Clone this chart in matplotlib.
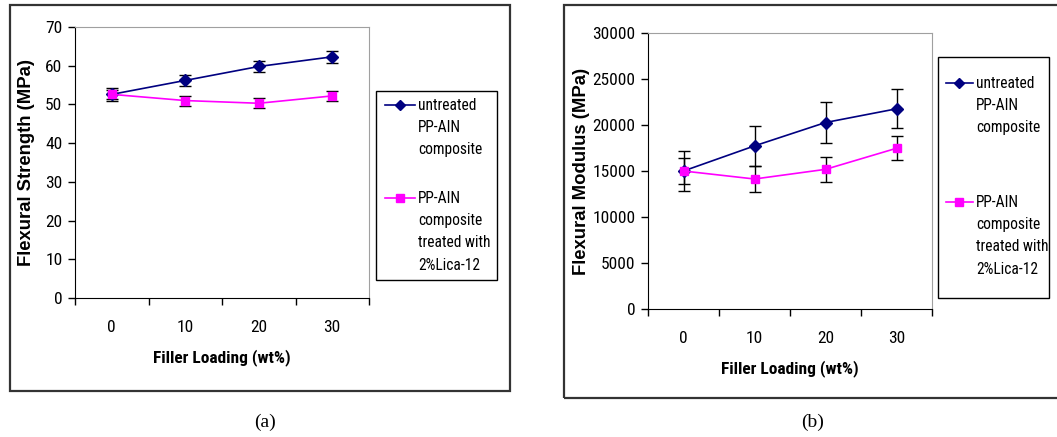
import matplotlib
matplotlib.use("Agg")
import matplotlib.pyplot as plt
from matplotlib.patches import Rectangle
from matplotlib.lines import Line2D

NARROW = ['Roboto Condensed', 'Liberation Sans', 'DejaVu Sans']
plt.rcParams['font.family'] = NARROW

# data
loading = ['0', '10', '20', '30']
strength_untreated = [52.6, 56.2, 59.8, 62.3]
strength_untreated_err = [1.6, 1.5, 1.5, 1.5]
strength_treated = [52.6, 51.0, 50.3, 52.2]
strength_treated_err = [1.2, 1.3, 1.3, 1.3]

modulus_untreated = [15000, 17730, 20270, 21760]
modulus_untreated_err = [2200, 2200, 2200, 2100]
modulus_treated = [15000, 14130, 15180, 17470]
modulus_treated_err = [1400, 1380, 1350, 1300]

label_untreated = 'untreated\nPP-AIN\ncomposite'
label_treated = 'PP-AIN\ncomposite\ntreated with\n2%Lica-12'

BLUE = '#000080'
PINK = '#FF00FF'

W, H = 1057, 437
fig = plt.figure(figsize=(W / 100, H / 100), dpi=100)


def fx(px):
    return px / W


def fy(py):
    return 1 - py / H


def panel(rect, y1, e1, y2, e2, ymax, ystep, ylabel, ylab_x):
    l, t, r, b = rect
    ax = fig.add_axes([fx(l), fy(b), fx(r) - fx(l), fy(t) - fy(b)])
    x = list(range(len(loading)))
    ax.errorbar(x, y1, yerr=e1, color=BLUE, marker='D', ms=6, lw=1.2,
                ecolor='black', elinewidth=1, capsize=4, capthick=1, zorder=3)
    ax.errorbar(x, y2, yerr=e2, color=PINK, marker='s', ms=5.5, lw=1.2,
                ecolor='black', elinewidth=1, capsize=4, capthick=1, zorder=3)
    ax.set_xlim(-0.5, len(loading) - 0.5)
    ax.set_ylim(0, ymax)
    ax.set_yticks(range(0, ymax + 1, ystep))
    ax.set_xticks([i - 0.5 for i in range(len(loading) + 1)])
    ax.set_xticklabels([])
    ax.set_xticks(x, minor=True)
    ax.set_xticklabels(loading, minor=True)
    ax.tick_params(axis='x', which='major', direction='out', length=5, width=1)
    ax.tick_params(axis='x', which='minor', length=0, pad=16, labelsize=12.5)
    ax.tick_params(axis='y', direction='out', length=5, width=1, labelsize=12.5, pad=4)
    for s in ['top', 'right']:
        ax.spines[s].set_color('#a0a0a0')
    for s in ['left', 'bottom']:
        ax.spines[s].set_color('black')
    ax.set_xlabel('Filler Loading (wt%)', fontsize=12.5, fontweight='bold', labelpad=10)
    ax.set_ylabel(ylabel, family=['Liberation Sans', 'DejaVu Sans'], fontsize=13.3,
                  fontweight='bold')
    ax.yaxis.set_label_coords((ylab_x - l) / (r - l), 0.5)
    return ax


def legend_box(box, handle_x, rows1, rows2):
    l, t, r, b = box
    fig.patches.append(Rectangle((fx(l), fy(b)), fx(r) - fx(l), fy(t) - fy(b),
                                 transform=fig.transFigure, fill=False,
                                 edgecolor='black', lw=1))
    hl, hm, hr = handle_x
    for (row_y, color, marker, ms, text) in [
            (rows1, BLUE, 'D', 5, label_untreated),
            (rows2, PINK, 's', 6, label_treated)]:
        fig.lines.append(Line2D([fx(hl), fx(hr)], [fy(row_y), fy(row_y)],
                                transform=fig.transFigure, color=color, lw=1.2))
        fig.lines.append(Line2D([fx(hm)], [fy(row_y)], transform=fig.transFigure,
                                color=color, marker=marker, ms=ms))
        fig.text(fx(hr + 3), fy(row_y - 7), text, ha='left', va='top',
                 fontsize=11.2, linespacing=1.6)


panel((75, 27, 369, 298), strength_untreated, strength_untreated_err,
      strength_treated, strength_treated_err, 70, 10, 'Flexural Strength (MPa)', 35)
panel((648, 33, 932, 309), modulus_untreated, modulus_untreated_err,
      modulus_treated, modulus_treated_err, 30000, 5000, 'Flexural Modulus (MPa)', 590)

legend_box((376, 91, 497, 280), (385, 400, 415), 105, 198)
legend_box((938, 57, 1049, 298), (946, 959, 973), 83, 202)

# outer frames
fig.patches.append(Rectangle((fx(10), fy(391)), fx(510) - fx(10), fy(5) - fy(391),
                             transform=fig.transFigure, fill=False,
                             edgecolor='#333333', lw=1.6))
fig.patches.append(Rectangle((fx(564), fy(398)), fx(1070) - fx(564), fy(5) - fy(398),
                             transform=fig.transFigure, fill=False,
                             edgecolor='#333333', lw=1.6, clip_on=False))

fig.text(fx(265), fy(422), '(a)', ha='center', va='center',
         family=['Liberation Serif'], fontsize=14)
fig.text(fx(813), fy(422), '(b)', ha='center', va='center',
         family=['Liberation Serif'], fontsize=14)

fig.savefig('out.png', dpi=100)
